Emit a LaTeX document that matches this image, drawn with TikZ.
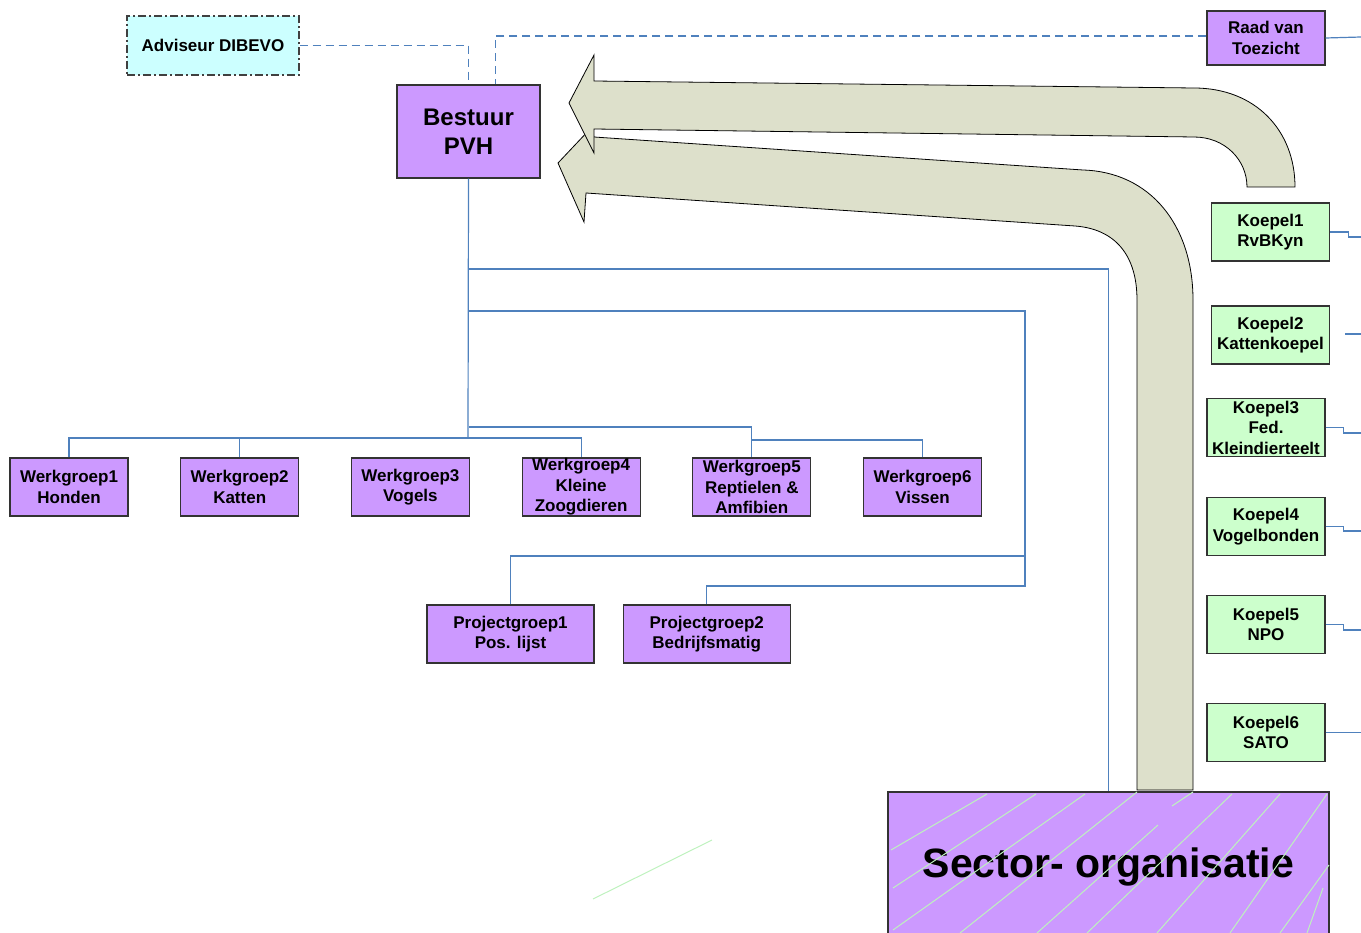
\documentclass[tikz,border=0pt]{standalone}
\usepackage{fontspec}
\setmainfont{Liberation Sans}
\usetikzlibrary{positioning}
\usetikzlibrary{calc}

\definecolor{paars}{RGB}{204,153,255}
\definecolor{lichtgroen}{RGB}{204,255,204}
\definecolor{lichtblauw}{RGB}{204,255,255}
\definecolor{lijn}{RGB}{79,129,189}
\definecolor{pijl}{RGB}{221,224,203}
\definecolor{arcering}{RGB}{190,242,190}

\begin{document}
\begin{tikzpicture}[x=1pt, y=-1pt, node distance=51.5pt, font=\bfseries\fontsize{17}{20.5}\selectfont]
    \tikzstyle{block}=[draw=black!80, line width=1.2pt, rectangle, fill=paars, minimum width=118pt, minimum height=58pt, inner sep=0pt, align=center]
    \tikzstyle{koepel}=[block, fill=lichtgroen]
    \tikzstyle{conn}=[draw=lijn, line width=1.2pt]
    \tikzstyle{dashconn}=[conn, dash pattern=on 8pt off 5pt]
    \tikzstyle{bigarrow}=[draw=black, line width=0.8pt, fill=pijl]
    \tikzstyle{hatch}=[draw=arcering, line width=1pt]

    \useasboundingbox (0,0) rectangle (1361,933);
    \clip (0,0) rectangle (1361,933);

    \node[block, fill=lichtblauw, draw=black!75, dash pattern=on 8pt off 3pt on 2pt off 3pt, minimum width=172pt, minimum height=59pt] (adv) at (213,45.5) {Adviseur DIBEVO};
    \node[block, minimum width=143pt, minimum height=93pt, font=\bfseries\fontsize{24}{29}\selectfont] (PVH) at (468.5,131.5) {Bestuur\\PVH};
    \node[block, minimum height=54pt] (RvT) at (1266,38) {Raad van\\Toezicht};

    \node[block] (wg1) at (69,487) {Werkgroep1\\Honden};
    \node[block, right=of wg1] (wg2) {Werkgroep2\\Katten};
    \node[block, right=of wg2] (wg3) {Werkgroep3\\Vogels};
    \node[block, right=of wg3] (wg4) {Werkgroep4\\Kleine\\Zoogdieren};
    \node[block, right=of wg4] (wg5) {Werkgroep5\\Reptielen \&\\Amfibien};
    \node[block, right=of wg5] (wg6) {Werkgroep6\\Vissen};

    \node[block, minimum width=167pt] (pg1) at (510.5,634) {Projectgroep1\\Pos. lijst};
    \node[block, minimum width=167pt, right=28pt of pg1] (pg2) {Projectgroep2\\Bedrijfsmatig};

    \node[koepel] (k1) at (1270.5,232) {Koepel1\\RvBKyn};
    \node[koepel] (k2) at (1270.5,335) {Koepel2\\Kattenkoepel};
    \node[koepel] (k3) at (1266,427.5) {Koepel3\\Fed.\\Kleindierteelt};
    \node[koepel] (k4) at (1266,526.5) {Koepel4\\Vogelbonden};
    \node[koepel] (k5) at (1266,624.5) {Koepel5\\NPO};
    \node[koepel] (k6) at (1266,732.5) {Koepel6\\SATO};

    \node[draw=black!80, line width=1.2pt, fill=paars, minimum width=441pt, inner sep=0pt, text height=85pt, text depth=120pt, anchor=base, font=\bfseries\fontsize{41}{49}\selectfont] (sector) at (1108.5,877) {Sector- organisatie};

    % arcering
    \draw[hatch] (891,850) -- (987,794);
    \draw[hatch] (893,888) -- (1036,794);
    \draw[hatch] (893,930) -- (1085,794);
    \draw[hatch] (960,933) -- (1137,792);
    \draw[hatch] (1037,933) -- (1158,825);
    \draw[hatch] (1087,933) -- (1232,794);
    \draw[hatch] (1157,933) -- (1280,794);
    \draw[hatch] (1230,933) -- (1327,794);
    \draw[hatch] (1280,933) -- (1329,865);
    \draw[hatch] (1307,933) -- (1323,888);
    \draw[hatch] (1172,806) -- (1193,792);
    \draw[hatch] (593,899) -- (712,840);

    % lijnen
    \coordinate (bus) at (468,438);
    \draw[conn] (PVH.south) -- (bus);
    \draw[conn] (wg1.north) |- (bus) -| (wg4.north);
    \draw[conn] (wg2.north) -- (wg2.north |- bus);
    \draw[conn] (PVH.south |- 0,427) -| (wg5.north);
    \draw[conn] (wg6.north) |- (wg5.north |- 0,440);
    \draw[conn] (PVH.south |- 0,269) -| (sector.north);
    \draw[conn] (PVH.south |- 0,311) -| (1025,586) -| (pg2.north);
    \draw[conn] (pg1.north) |- (1025,556);

    \draw[dashconn] (adv.east) -| (PVH.north);
    \draw[dashconn] (RvT.west |- 0,36) -| ([xshift=27pt]PVH.north);

    \coordinate (e0) at (1361,37);
    \coordinate (e1) at (1361,237);
    \coordinate (e2) at (1361,334);
    \coordinate (e3) at (1361,433);
    \coordinate (e4) at (1361,531);
    \coordinate (e5) at (1361,630);
    \coordinate (e6) at (1361,732.5);
    \draw[conn] (RvT.east) -- (e0);
    \draw[conn] (k1.east) -- ++(18,0) |- (e1);
    \draw[conn] ([xshift=15pt]k2.east |- e2) -- (e2);
    \draw[conn] (k3.east) -- ++(18,0) |- (e3);
    \draw[conn] (k4.east) -- ++(18,0) |- (e4);
    \draw[conn] (k5.east) -- ++(18,0) |- (e5);
    \draw[conn] (k6.east) -- (e6);

    % pijlen
    \draw[bigarrow] (1193,790) -- (1193,300) .. controls (1193,225) and (1150,172) .. (1083,170) -- (594,137) -- (591,128) -- (558,163) -- (584,222) -- (586,193) -- (1075,226) .. controls (1115,229) and (1137,255) .. (1137,300) -- (1137,790) -- cycle;
    \draw[bigarrow] (1295,187) .. controls (1295,130) and (1255,88) .. (1194,88) -- (594,81) -- (594,55) -- (569,103) -- (594,153) -- (594,129) -- (1194,137) .. controls (1225,137) and (1247,160) .. (1247,187) -- cycle;
\end{tikzpicture}
\end{document}
